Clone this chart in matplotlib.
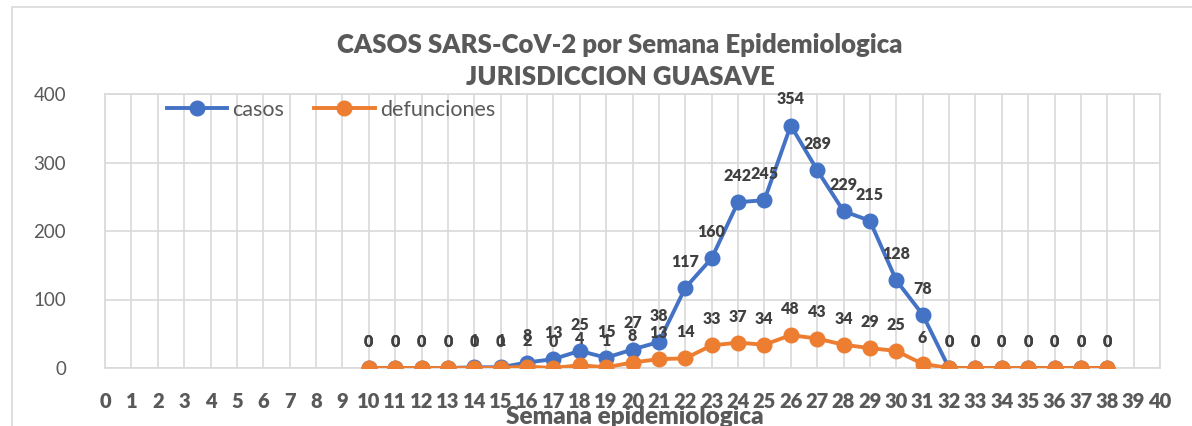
import numpy as np
import matplotlib.pyplot as plt
from matplotlib.patches import Rectangle

plt.rcParams['font.family'] = ['Lato', 'DejaVu Sans']

# Weekly counts for the Guasave jurisdiction
semanas = list(range(10, 39))
casos = [0, 0, 0, 0, 1, 1, 8, 13, 25, 15, 27, 38, 117, 160, 242, 245,
         354, 289, 229, 215, 128, 78, 0, 0, 0, 0, 0, 0, 0]
defunciones = [0, 0, 0, 0, 0, 0, 2, 0, 4, 1, 8, 13, 14, 33, 37, 34,
               48, 43, 34, 29, 25, 6, 0, 0, 0, 0, 0, 0, 0]
x_ticks = list(range(0, 41))
y_ticks = [0, 100, 200, 300, 400]

AZUL = '#4472C4'
NARANJA = '#ED7D31'
GRIS = '#595959'

fig = plt.figure(figsize=(11.92, 4.26), dpi=100)
# outer chart frame
fig.patches.append(Rectangle((12 / 1192, -0.1), 1.2, 1 - 7 / 426 + 0.1,
                             transform=fig.transFigure, fill=False,
                             edgecolor='#D9D9D9', lw=1.2))

ax = fig.add_axes([105 / 1192, 1 - 368 / 426, 1055 / 1192, 274 / 426])
ax.set_xlim(0, 40)
ax.set_ylim(0, 400)
ax.set_xticks(x_ticks)
ax.set_yticks(y_ticks)
ax.grid(True, color='#D9D9D9', lw=1.2)
ax.set_axisbelow(True)
for s in ax.spines.values():
    s.set_color('#D9D9D9')
    s.set_linewidth(1.2)
ax.tick_params(length=0)
ax.tick_params(axis='x', pad=17, labelsize=14.5, labelcolor=GRIS)
ax.tick_params(axis='y', pad=28, labelsize=13.5, labelcolor=GRIS)
for t in ax.get_xticklabels():
    t.set_fontweight('heavy')

ax.plot(semanas, casos, color=AZUL, lw=2.8, marker='o', ms=10.5,
        label='casos', zorder=3)
ax.plot(semanas, defunciones, color=NARANJA, lw=2.8, marker='o', ms=10.5,
        label='defunciones', zorder=4)

for x, c, d in zip(semanas, casos, defunciones):
    ax.annotate(str(c), (x, c), xytext=(0, 13), textcoords='offset points',
                ha='center', va='bottom', fontsize=11.5, fontweight='heavy',
                color='#404040', zorder=5)
    ax.annotate(str(d), (x, d), xytext=(0, 13), textcoords='offset points',
                ha='center', va='bottom', fontsize=11.5, fontweight='heavy',
                color='#404040', zorder=5)

ax.legend(loc='upper left', bbox_to_anchor=(0.04, 1.05), ncol=2,
          frameon=False, fontsize=15.5, handlelength=2.8, handletextpad=0.25,
          columnspacing=1.4, labelcolor=GRIS)

fig.text(620 / 1192, 1 - 45 / 426, 'CASOS SARS-CoV-2 por Semana Epidemiologica',
         ha='center', va='center', fontsize=18.5, fontweight='heavy', color=GRIS)
fig.text(620 / 1192, 1 - 77 / 426, 'JURISDICCION GUASAVE',
         ha='center', va='center', fontsize=18.5, fontweight='heavy', color=GRIS)
fig.text(635 / 1192, 1 - 417 / 426, 'Semana epidemiologica',
         ha='center', va='center', fontsize=17.5, fontweight='heavy', color=GRIS)

fig.savefig('out.png', dpi=100)
